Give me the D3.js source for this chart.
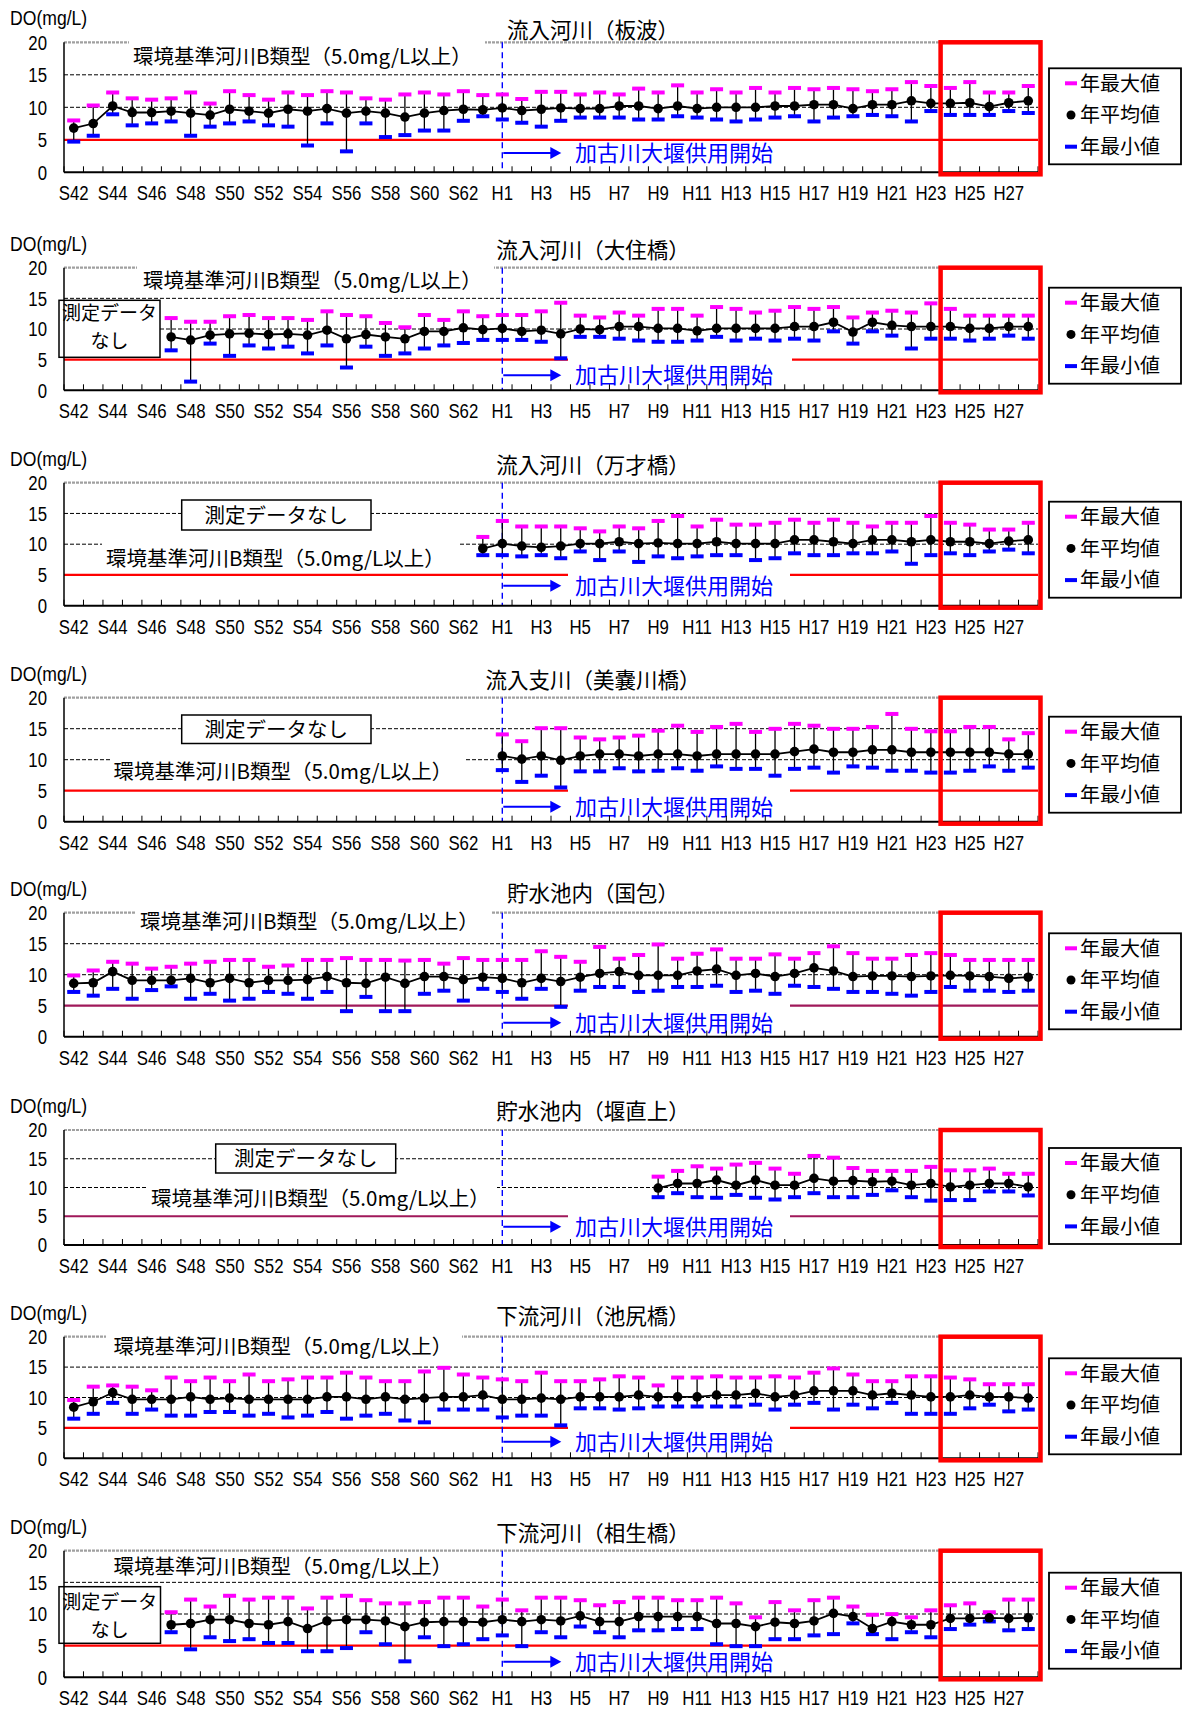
<!DOCTYPE html>
<html><head><meta charset="utf-8">
<script src="https://cdn.jsdelivr.net/npm/d3@7"></script>
<style>body{margin:0;background:#fff}</style>
</head><body>
<script>
// ---------- data ----------
const years = ["S42","S43","S44","S45","S46","S47","S48","S49","S50","S51","S52","S53","S54","S55","S56","S57","S58","S59","S60","S61","S62","S63",
  "H1","H2","H3","H4","H5","H6","H7","H8","H9","H10","H11","H12","H13","H14","H15","H16","H17","H18","H19","H20","H21","H22","H23","H24","H25","H26","H27","H28"];
const tickLabels = years.filter((d,i)=>i%2===0);
const yTicks = [0,5,10,15,20];
const titles = ["流入河川（板波）","流入河川（大住橋）","流入河川（万才橋）","流入支川（美嚢川橋）","貯水池内（国包）","貯水池内（堰直上）","下流河川（池尻橋）","下流河川（相生橋）"];
const stdLabel = "環境基準河川B類型（5.0mg/L以上）";
const kakoLabel = "加古川大堰供用開始";
const noDataLabel = "測定データなし";
const legendLabels = ["年最大値","年平均値","年最小値"];
const highlightFrom = "H24";
const damYear = "H1";
const startYears = ["S42","S47","S63","H1","S42","H9","S42","S47"];

const p1Max = [7.9,10.2,12.2,11.3,11.1,11.3,12.2,10.5,12.4,11.8,11.1,12.2,11.8,12.4,12.2,11.3,11.1,11.9,12.2,11.9,12.4,11.8,
  11.9,11.2,12.3,12.3,11.9,12.2,11.9,12.8,12.2,13.3,12.2,12.7,12.2,12.9,12.2,12.9,12.7,12.9,12.7,12.4,12.7,13.8,13.2,12.9,13.8,12.2,12.2,13.2];
const p1Mean = [6.8,7.5,10.2,9.2,9.2,9.4,9.1,8.8,9.7,9.4,9.1,9.7,9.4,9.8,9.1,9.4,9.1,8.5,9.1,9.5,9.7,9.6,
  9.9,9.5,9.7,9.9,9.8,9.8,10.2,10.2,9.8,10.2,9.8,10.0,10.0,10.0,10.2,10.2,10.4,10.4,9.8,10.4,10.4,11.0,10.6,10.6,10.7,10.1,10.7,11.0];
const p1Min = [4.8,5.7,9.0,7.3,7.6,7.9,5.7,7.1,7.6,7.9,7.3,7.1,4.2,7.6,3.3,7.6,5.5,5.8,6.5,6.5,8.0,8.7,
  8.2,7.7,7.1,8.0,8.5,8.5,8.5,8.2,8.2,8.7,8.5,8.2,7.9,8.2,8.5,8.7,7.9,8.5,8.7,8.9,8.7,7.9,9.5,8.9,8.9,8.9,9.5,9.2];

const p2Max = [11.7,11.1,11.1,12.0,12.2,11.7,11.7,11.4,12.8,12.2,12.0,10.9,10.2,12.2,11.4,12.8,12.0,
  12.2,12.2,12.8,14.2,12.1,11.8,12.6,12.1,13.2,13.2,12.1,13.5,13.2,12.6,12.9,13.5,13.2,13.5,11.8,12.6,12.9,12.6,14.1,13.2,12.1,12.1,12.1,12.1];
const p2Mean = [8.7,8.2,9.0,9.2,9.3,9.1,9.2,9.0,9.8,8.4,9.1,8.7,8.4,9.6,9.6,10.2,9.9,
  10.1,9.6,9.8,9.2,10.0,9.9,10.4,10.4,10.1,10.1,9.7,10.1,10.1,10.1,10.1,10.4,10.4,11.1,9.5,11.1,10.6,10.4,10.4,10.4,10.1,10.1,10.4,10.4];
const p2Min = [6.6,1.5,7.7,5.7,7.4,6.9,7.2,6.1,7.4,3.8,7.2,5.7,6.1,6.9,7.4,7.8,8.3,
  8.3,8.3,8.0,5.3,8.8,8.8,8.5,8.2,8.0,8.0,8.2,8.8,8.2,8.5,8.2,8.5,8.2,9.7,7.7,9.7,9.0,6.9,8.5,8.5,8.2,8.5,9.0,8.5];

const p3Max = [11.1,13.7,12.8,12.8,12.8,12.5,12.0,12.8,12.5,13.7,14.5,12.8,13.9,13.1,13.1,13.4,13.9,13.4,13.9,13.4,12.8,13.4,13.4,14.5,13.4,13.1,12.3,12.3,13.4];
const p3Mean = [9.3,10.1,9.7,9.5,9.7,10.1,10.1,10.4,10.1,10.2,10.1,10.1,10.4,10.1,10.1,10.1,10.7,10.7,10.4,10.1,10.7,10.7,10.4,10.7,10.4,10.4,10.1,10.5,10.7];
const p3Min = [8.3,8.3,8.1,8.3,7.8,8.9,7.5,8.9,7.2,8.1,7.8,8.1,8.3,8.3,7.5,7.8,8.6,8.3,8.3,8.6,8.6,8.9,6.9,8.3,8.6,8.3,8.9,9.2,8.6];

const p4Max = [14.0,12.9,15.0,15.0,13.5,13.2,13.5,13.8,14.6,15.4,14.4,15.2,15.7,14.4,14.9,15.7,15.4,14.9,14.9,15.2,17.3,14.9,14.5,14.5,15.2,15.2,13.2,14.2];
const p4Mean = [10.6,10.1,10.6,9.9,10.6,10.9,10.9,10.6,10.9,10.9,10.6,10.9,10.9,10.9,10.9,11.3,11.7,11.2,11.2,11.6,11.6,11.2,11.2,11.2,11.2,11.2,10.9,10.9];
const p4Min = [8.4,6.5,7.5,5.6,8.2,8.2,8.7,8.2,8.3,8.7,8.3,9.0,8.6,8.6,7.5,8.6,8.8,8.0,9.0,8.8,8.3,8.3,8.0,8.0,8.3,9.0,8.3,8.8];

const p5Max = [9.8,10.6,12.0,11.7,10.9,11.2,11.7,12.0,12.3,12.3,11.2,11.4,12.3,12.3,12.6,12.3,12.3,12.2,12.3,11.7,12.6,12.3,
  12.3,12.3,13.7,12.8,12.0,14.4,12.5,13.1,14.8,12.5,13.3,14.0,12.5,12.5,13.2,12.5,13.4,14.5,13.4,12.5,12.5,13.1,13.4,13.1,12.3,12.3,12.3,12.3];
const p5Mean = [8.6,8.7,10.5,9.1,9.1,9.1,9.4,8.7,9.4,8.7,9.1,9.1,9.2,9.7,8.7,8.6,9.6,8.6,9.7,9.7,9.2,9.6,
  9.4,8.7,9.4,8.9,9.6,10.2,10.5,9.9,9.9,9.9,10.6,10.9,9.9,10.2,9.7,10.2,11.1,10.6,9.7,9.8,9.8,9.7,9.8,9.9,9.8,9.7,9.4,9.6];
const p5Min = [7.3,6.7,7.8,6.2,7.6,8.2,6.2,7.0,5.9,6.2,7.3,7.0,6.2,7.3,4.2,6.5,4.2,4.2,7.0,7.5,5.9,7.8,
  7.3,6.2,7.8,4.9,7.5,8.1,8.1,7.3,7.5,8.1,8.1,8.3,7.3,7.5,7.0,8.3,8.1,7.8,7.3,7.3,7.0,6.7,7.3,8.1,7.5,7.5,7.3,7.5];

const p6Max = [11.8,12.8,13.6,13.2,13.9,14.2,13.2,12.3,15.4,15.1,13.3,12.8,12.8,12.8,13.5,12.9,12.9,13.2,12.3,12.3];
const p6Mean = [9.9,10.7,10.7,11.3,10.4,11.3,10.4,10.4,11.6,11.1,11.2,11.0,11.1,10.4,10.7,10.1,10.4,10.7,10.7,10.1];
const p6Min = [8.4,9.1,8.4,8.3,8.8,8.3,8.0,8.4,9.1,8.4,8.4,8.8,9.6,8.4,7.8,7.9,7.9,9.4,9.4,8.7];

const p7Max = [9.5,11.7,11.9,11.7,11.1,13.2,12.6,13.2,12.6,13.7,12.6,12.9,13.2,13.2,14.0,13.2,12.6,12.6,14.2,14.8,13.7,13.2,
  12.9,12.6,14.0,12.6,12.6,12.9,13.4,13.2,11.9,13.2,13.2,13.4,13.2,13.2,13.4,13.2,14.0,14.7,13.7,12.6,12.6,13.4,13.4,13.2,12.9,12.1,12.1,12.1];
const p7Mean = [8.4,9.3,10.8,9.7,9.7,9.7,10.1,9.7,9.9,9.7,9.7,9.7,9.7,10.1,10.1,9.7,10.1,9.7,9.9,10.1,10.1,10.4,
  9.7,9.7,9.9,9.7,10.1,10.1,10.1,10.4,10.1,10.1,10.1,10.4,10.4,10.7,10.1,10.4,11.1,11.1,11.1,10.4,10.7,10.4,10.1,10.1,10.4,10.1,10.1,9.9];
const p7Min = [6.6,7.4,9.2,7.4,8.1,7.1,7.1,7.7,7.7,7.1,7.4,6.8,7.1,7.7,6.6,7.1,7.4,6.3,6.0,8.1,8.1,8.1,
  6.8,7.1,7.1,5.5,8.3,8.3,8.1,8.3,8.6,8.6,8.6,8.6,8.6,8.9,8.1,8.9,9.2,8.1,8.9,8.3,9.2,7.4,7.4,7.4,8.3,8.9,7.8,8.1];

const p8Max = [10.2,12.2,11.1,12.8,12.2,12.5,12.5,10.8,12.5,12.8,12.1,11.6,11.6,11.8,12.5,12.5,11.1,
  12.2,10.5,12.5,12.5,12.1,11.3,11.8,12.5,12.5,12.1,12.1,12.5,11.6,9.4,11.8,10.5,12.1,12.5,11.1,9.8,9.9,9.4,10.5,11.3,11.6,10.2,12.2,12.2];
const p8Mean = [8.3,8.5,9.1,9.1,8.5,8.3,8.8,7.7,8.9,9.1,9.1,8.9,8.0,8.7,8.8,8.8,8.7,
  9.1,8.8,9.1,8.9,9.7,8.8,8.8,9.6,9.6,9.6,9.6,8.5,8.5,8.0,8.7,8.5,8.9,10.1,9.6,7.7,8.8,8.3,8.3,9.3,9.3,9.4,9.3,9.4];
const p8Min = [7.2,4.5,6.4,5.8,6.1,5.5,5.5,4.2,4.2,4.7,7.2,5.3,2.6,6.4,5.0,5.3,6.1,
  6.7,5.0,7.2,6.4,8.1,7.2,6.4,7.5,7.5,7.7,7.7,5.3,5.0,5.0,6.1,6.1,6.7,6.9,8.6,6.9,6.1,7.2,6.4,7.7,8.4,8.9,7.5,7.7];

const maxSeries = [p1Max,p2Max,p3Max,p4Max,p5Max,p6Max,p7Max,p8Max];
const meanSeries = [p1Mean,p2Mean,p3Mean,p4Mean,p5Mean,p6Mean,p7Mean,p8Mean];
const minSeries = [p1Min,p2Min,p3Min,p4Min,p5Min,p6Min,p7Min,p8Min];

// ---------- layout (positions only) ----------
const layout = [
 {top:42.3,bottom:172.3,titleDy:-12,legDy:26,std:{x:133,cy:57,box:[129,38,356,29]},nd:null,kako:{cy:153,box:null},lc:"#ff0000"},
 {top:267.7,bottom:390.3,titleDy:-17,legDy:20,std:{x:143,cy:280.3,box:[137,264,357,30]},nd:{box:[59,300.3,101,57],lines:["測定データ","なし"],cy:[313,341]},kako:{cy:375.3,box:[568,356,224,30]},lc:"#ff0000"},
 {top:482.7,bottom:605.7,titleDy:-17.7,legDy:19,std:{x:106,cy:558.3,box:[102,541,356,31]},nd:{box:[181.7,500,189.3,30],lines:[noDataLabel],cy:[515.5]},kako:{cy:585.7,box:[568,572.5,222,28]},lc:"#ff0000"},
 {top:697.7,bottom:821.7,titleDy:-17.7,legDy:19,std:{x:113.5,cy:771.7,box:[110,756,355,31]},nd:{box:[181.7,715,189.3,28.5],lines:[noDataLabel],cy:[729.5]},kako:{cy:806.7,box:[568,788,222,30]},lc:"#ff0000"},
 {top:912.7,bottom:1036.7,titleDy:-19.4,legDy:20.6,std:{x:140,cy:921.7,box:[136,908,356,29]},nd:null,kako:{cy:1022.7,box:[568,1003,222,30]},lc:"#a0185a"},
 {top:1130,bottom:1245,titleDy:-18.3,legDy:18,std:{x:151,cy:1198.3,box:[147,1184,350,29]},nd:{box:[215.7,1144,180,29],lines:[noDataLabel],cy:[1158.5]},kako:{cy:1226.7,box:[568,1213.5,222,28]},lc:"#a0185a"},
 {top:1336.7,bottom:1458.3,titleDy:-20.7,legDy:21.6,std:{x:113.5,cy:1346.7,box:[106,1332,356,29]},nd:null,kako:{cy:1441.7,box:[568,1425,222,30]},lc:"#ff0000"},
 {top:1550.7,bottom:1677.3,titleDy:-17.4,legDy:22,std:{x:113.5,cy:1566.7,box:[110,1554,350,25]},nd:{box:[59,1586.7,101.5,56.6],lines:["測定データ","なし"],cy:[1602.3,1630]},kako:{cy:1661.7,box:null},lc:"#ff0000"}
];

const W=1187,H=1710;
const CJK = "'Noto Sans CJK JP', sans-serif";
const NUM = "'Liberation Sans',Arial,sans-serif";
const SQUEEZE = 0.8;
const svg = d3.select("body").append("svg").attr("width",W).attr("height",H)
  .style("font-family",CJK).style("background","#fff");

const x = d3.scaleBand().domain(years).range([64,1038]).padding(0);
const bw = x.bandwidth();
const cx = d => x(d)+bw/2;

layout.forEach((L,k)=>{
  const y = d3.scaleLinear().domain([0,20]).range([L.bottom,L.top]);
  const g = svg.append("g");
  const x0 = x.range()[0], x1 = x.range()[1];

  // gridlines
  g.append("line").attr("x1",x0).attr("x2",x1).attr("y1",y(20)).attr("y2",y(20))
    .attr("stroke","#a0a0a0").attr("stroke-width",2.2).attr("stroke-dasharray","3,1");
  [15,10].forEach(v=>g.append("line").attr("x1",x0).attr("x2",x1).attr("y1",y(v)).attr("y2",y(v))
    .attr("stroke","#000").attr("stroke-width",1).attr("stroke-dasharray","4,2"));
  // standard line 5 mg/L
  g.append("line").attr("x1",x0).attr("x2",x1).attr("y1",y(5)).attr("y2",y(5))
    .attr("stroke",L.lc).attr("stroke-width",2.2);
  // dam start line
  g.append("line").attr("x1",cx(damYear)).attr("x2",cx(damYear)).attr("y1",y(20)).attr("y2",y(0))
    .attr("stroke","#0000ff").attr("stroke-width",1.4).attr("stroke-dasharray","6,4");

  // standard label
  const sb = L.std.box;
  g.append("rect").attr("x",sb[0]).attr("y",sb[1]).attr("width",sb[2]).attr("height",sb[3]).attr("fill","#fff");
  g.append("text").attr("x",L.std.x).attr("y",L.std.cy).attr("dy","0.36em").attr("font-size",20.5)
    .attr("fill","#000").text(stdLabel);

  // no data box
  if(L.nd){
    const b=L.nd.box;
    g.append("rect").attr("x",b[0]).attr("y",b[1]).attr("width",b[2]).attr("height",b[3])
      .attr("fill","#fff").attr("stroke","#000").attr("stroke-width",1.5);
    const fs = L.nd.lines.length>1 ? 19 : 20.5;
    L.nd.lines.forEach((t,i)=>g.append("text").attr("x",b[0]+b[2]/2).attr("y",L.nd.cy[i]).attr("dy","0.36em")
      .attr("text-anchor","middle").attr("font-size",fs).text(t));
  }

  // dam label
  if(L.kako.box){
    const b=L.kako.box;
    g.append("rect").attr("x",b[0]).attr("y",b[1]).attr("width",b[2]).attr("height",b[3]).attr("fill","#fff");
  }
  const ax0 = cx(damYear)+1, ax1 = ax0+58, ay = L.kako.cy;
  g.append("line").attr("x1",ax0).attr("x2",ax1-9).attr("y1",ay).attr("y2",ay).attr("stroke","#0000ff").attr("stroke-width",2);
  g.append("path").attr("d",`M${ax1},${ay} L${ax1-11},${ay-6} L${ax1-11},${ay+6} Z`).attr("fill","#0000ff");
  g.append("text").attr("x",575).attr("y",ay).attr("dy","0.36em").attr("font-size",22).attr("fill","#0000ff").text(kakoLabel);

  // axes
  const xa = g.append("g").attr("transform",`translate(0,${L.bottom})`)
    .call(d3.axisBottom(x).tickValues(tickLabels).tickSize(0).tickPadding(13));
  xa.select(".domain").remove();
  xa.selectAll("text").attr("font-size",21).attr("font-family",NUM).attr("fill","#000")
    .attr("transform",`scale(${SQUEEZE},1)`);
  const bounds = years.map(d=>x(d)).concat([x1]);
  g.selectAll(null).data(bounds).join("line").attr("x1",d=>d).attr("x2",d=>d)
    .attr("y1",L.bottom).attr("y2",L.bottom-6).attr("stroke","#000").attr("stroke-width",1);
  g.append("line").attr("x1",x0).attr("x2",x1).attr("y1",L.bottom).attr("y2",L.bottom).attr("stroke","#000").attr("stroke-width",2);
  const ya = g.append("g").attr("transform",`translate(${x0},0)`)
    .call(d3.axisLeft(y).tickValues(yTicks).tickSize(0).tickPadding(17/SQUEEZE));
  ya.select(".domain").remove();
  ya.selectAll("text").attr("font-size",21).attr("font-family",NUM).attr("fill","#000")
    .attr("transform",`scale(${SQUEEZE},1)`);
  g.append("line").attr("x1",x0).attr("x2",x0).attr("y1",L.top).attr("y2",L.bottom).attr("stroke","#000").attr("stroke-width",1.5);

  // data
  const s = years.indexOf(startYears[k]);
  const data = meanSeries[k].map((m,j)=>({year:years[s+j],mean:m,max:maxSeries[k][j],min:minSeries[k][j]}));
  const dg = g.append("g");
  dg.selectAll(".wh").data(data).join("line").attr("x1",d=>cx(d.year)).attr("x2",d=>cx(d.year))
    .attr("y1",d=>y(d.max)).attr("y2",d=>y(d.min)).attr("stroke","#000").attr("stroke-width",1.3);
  ["max","min"].forEach(f=>dg.selectAll(null).data(data).join("line")
    .attr("x1",d=>cx(d.year)-6).attr("x2",d=>cx(d.year)+6).attr("y1",d=>y(d[f])).attr("y2",d=>y(d[f]))
    .attr("stroke","#000").attr("stroke-width",1.3));
  dg.append("path").datum(data).attr("fill","none").attr("stroke","#000").attr("stroke-width",1.8)
    .attr("d",d3.line().x(d=>cx(d.year)).y(d=>y(d.mean)));
  dg.selectAll(null).data(data).join("rect").attr("x",d=>cx(d.year)-6.5).attr("y",d=>y(d.max)-2.5)
    .attr("width",13).attr("height",4).attr("fill","#ff00ff");
  dg.selectAll(null).data(data).join("rect").attr("x",d=>cx(d.year)-6.5).attr("y",d=>y(d.min)-1.5)
    .attr("width",13).attr("height",4).attr("fill","#0000ff");
  dg.selectAll(null).data(data).join("circle").attr("cx",d=>cx(d.year)).attr("cy",d=>y(d.mean)).attr("r",4.8).attr("fill","#000");

  // highlight box
  g.append("rect").attr("x",x(highlightFrom)).attr("y",L.top).attr("width",x1+2.5-x(highlightFrom))
    .attr("height",L.bottom-L.top+2).attr("fill","none").attr("stroke","#ff0000").attr("stroke-width",4.5);

  // legend
  const ly = L.top+L.legDy;
  const lg = g.append("g").attr("transform",`translate(1049,${ly})`);
  lg.append("rect").attr("width",132).attr("height",96).attr("fill","#fff").attr("stroke","#000").attr("stroke-width",1.8);
  legendLabels.forEach((t,i)=>{
    const yy = 15+i*31.7;
    if(i===1) lg.append("circle").attr("cx",22).attr("cy",yy).attr("r",4.5).attr("fill","#000");
    else lg.append("rect").attr("x",16).attr("y",yy-2).attr("width",12).attr("height",4).attr("fill",i===0?"#ff00ff":"#0000ff");
    lg.append("text").attr("x",31).attr("y",yy).attr("dy","0.36em").attr("font-size",20).text(t);
  });

  // title and unit
  g.append("text").attr("x",593).attr("y",L.top+L.titleDy).attr("dy","0.36em").attr("text-anchor","middle")
    .attr("font-size",21.5).text(titles[k]);
  g.append("text").attr("x",10/0.88).attr("y",L.top-24).attr("dy","0.36em").attr("font-size",20)
    .attr("font-family",NUM).attr("transform","scale(0.88,1)").text("DO(mg/L)");
});
</script>
</body></html>
